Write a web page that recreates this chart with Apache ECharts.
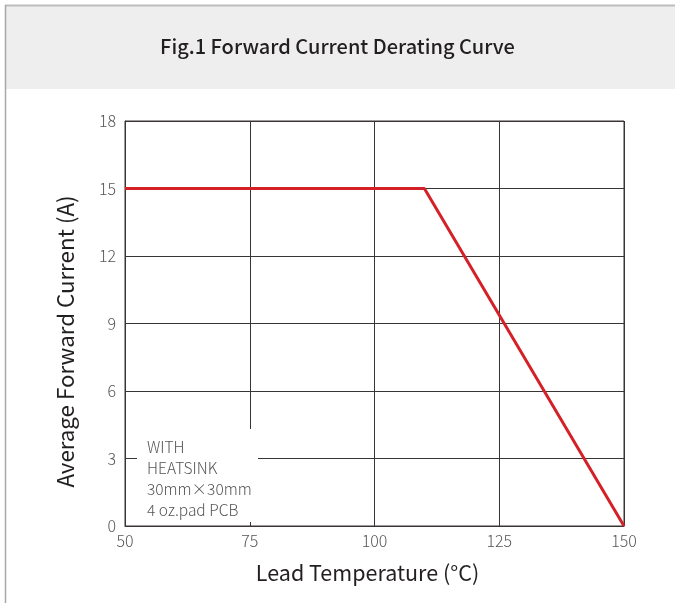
<!DOCTYPE html>
<html><head><meta charset="utf-8">
<script src="https://cdn.jsdelivr.net/npm/echarts@6/dist/echarts.min.js"></script>
<style>html,body{margin:0;padding:0;background:#fff}#c{width:675px;height:603px}</style>
</head><body><div id="c"></div>
<script>
const temperature = [50, 110, 150];
const current = [15, 15, 0];
const xTicks = [50, 75, 100, 125, 150];
const yTicks = [0, 3, 6, 9, 12, 15, 18];
const title = 'Fig.1 Forward Current Derating Curve';
const note = 'WITH\nHEATSINK\n30mm×30mm\n4 oz.pad PCB';
const FONT = '"Noto Sans CJK SC", "Noto Sans", sans-serif';

const chart = echarts.init(document.getElementById('c'), null, {renderer: 'canvas'});
chart.setOption({
  animation: false,
  backgroundColor: '#fff',
  grid: {left: 125, top: 121, right: 51, bottom: 77, show: true, borderColor: '#3a3535', borderWidth: 1},
  graphic: [
    {type: 'rect', shape: {x: 5, y: 5, width: 670, height: 84}, style: {fill: '#eeeeee'}, z: -10},
    {type: 'line', shape: {x1: 5, y1: 5.5, x2: 675, y2: 5.5}, style: {stroke: '#bdbdbd', lineWidth: 2}},
    {type: 'line', shape: {x1: 5.5, y1: 5, x2: 5.5, y2: 603}, style: {stroke: '#a8a8a8', lineWidth: 1.5}},
    {type: 'text', left: 'center', top: 36, style: {text: title, font: '500 20px ' + FONT, fill: '#231f20'}},
    {type: 'rect', shape: {x: 137, y: 429, width: 121, height: 93}, style: {fill: '#fff'}, z: 50},
    {type: 'text', x: 147, y: 436, z: 51, style: {text: note, font: '300 15.5px ' + FONT, fill: '#555', lineHeight: 21.3}}
  ],
  xAxis: {
    type: 'value', min: 50, max: 150, interval: 25,
    name: 'Lead Temperature (°C)', nameLocation: 'middle', nameGap: 36,
    nameTextStyle: {fontFamily: FONT, fontSize: 21.5, color: '#231f20', padding: [0, 14, 0, 0]},
    axisLine: {show: true, lineStyle: {color: '#3a3535', width: 1}},
    axisTick: {show: false},
    axisLabel: {fontFamily: FONT, fontSize: 16, color: '#555', margin: 7, fontWeight: 300,
      formatter: v => xTicks.includes(v) ? String(v) : ''},
    splitLine: {show: true, lineStyle: {color: '#3a3535', width: 1}}
  },
  yAxis: {
    type: 'value', min: 0, max: 18, interval: 3,
    name: 'Average Forward Current (A)', nameLocation: 'middle', nameGap: 48,
    nameTextStyle: {fontFamily: FONT, fontSize: 22.3, color: '#231f20', padding: [0, 36, 0, 0]},
    axisLine: {show: true, lineStyle: {color: '#3a3535', width: 1}},
    axisTick: {show: false},
    axisLabel: {fontFamily: FONT, fontSize: 16, color: '#555', margin: 9, fontWeight: 300,
      formatter: v => yTicks.includes(v) ? String(v) : ''},
    splitLine: {show: true, lineStyle: {color: '#3a3535', width: 1}}
  },
  series: [{
    type: 'line', data: temperature.map((t, i) => [t, current[i]]),
    symbol: 'none', lineStyle: {color: '#d42027', width: 3}, z: 10
  }]
});
</script></body></html>
